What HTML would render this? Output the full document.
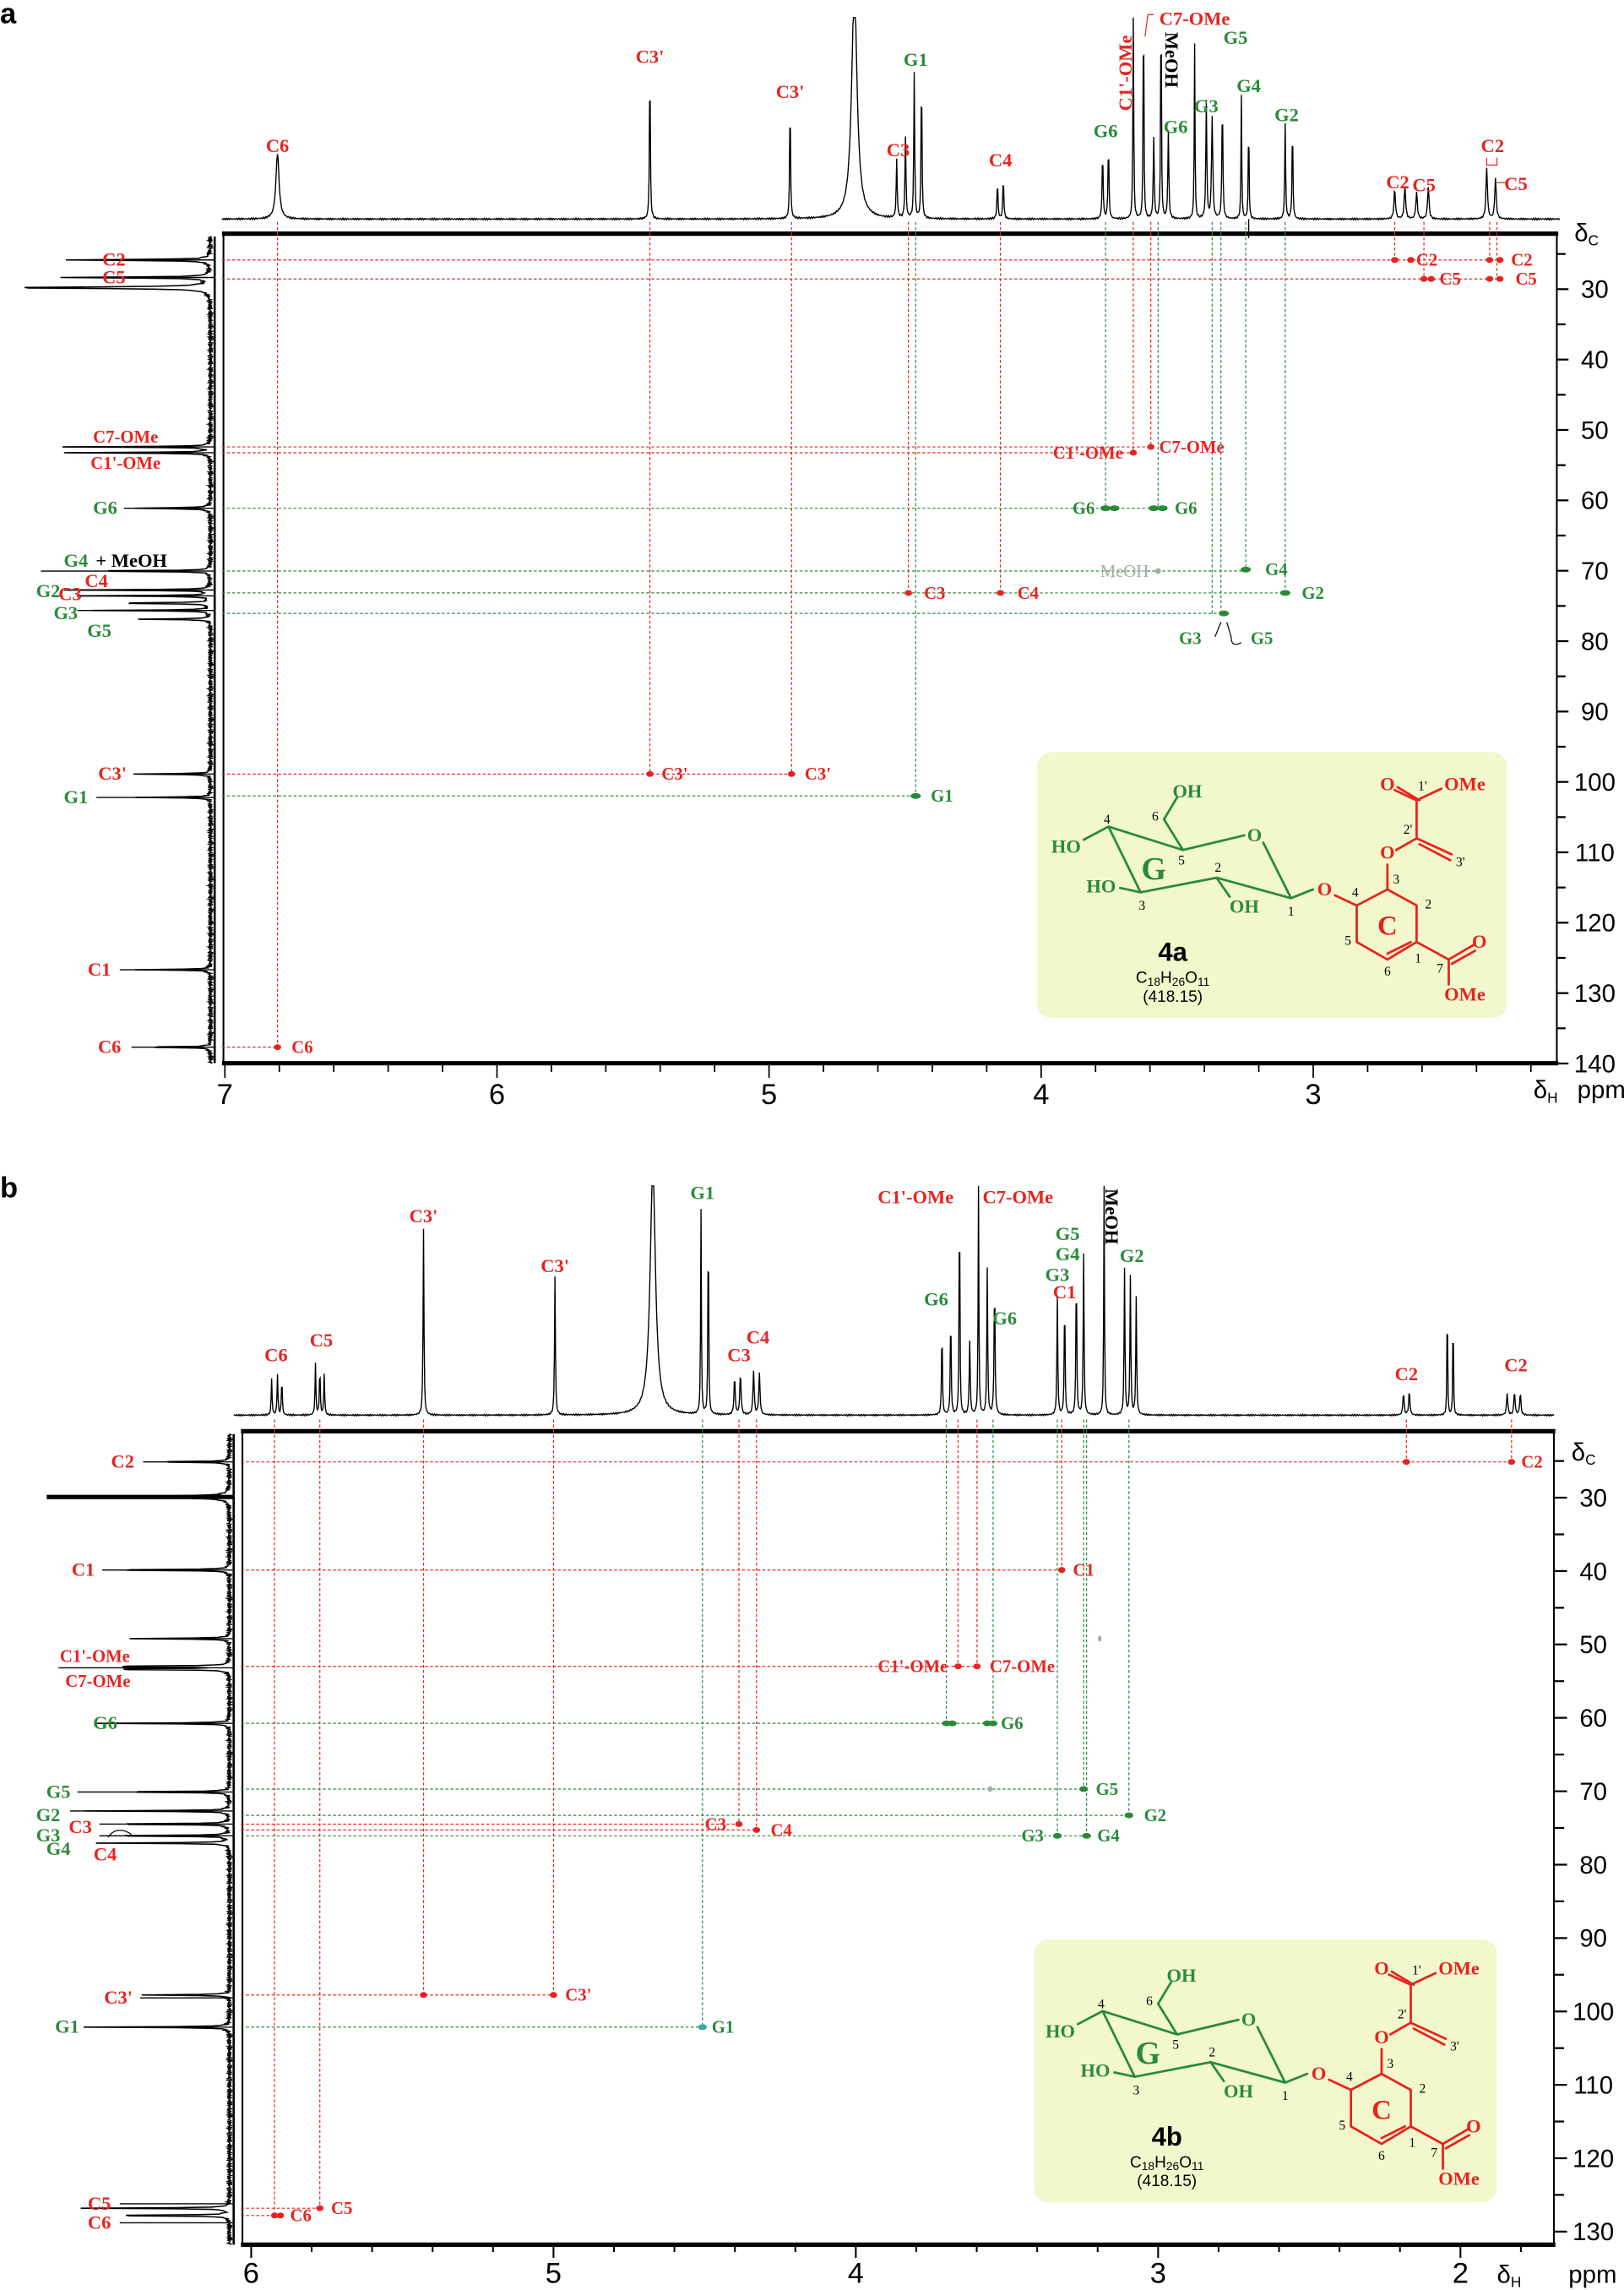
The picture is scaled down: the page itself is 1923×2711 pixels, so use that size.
<!DOCTYPE html>
<html><head><meta charset="utf-8"><style>
html,body{margin:0;padding:0;background:#fff}
svg{display:block}
text{font-family:"Liberation Serif",serif}
.r{fill:#e8231f}.g{fill:#2b8a3a}.k{fill:#000}
.sans{font-family:"Liberation Sans",sans-serif}
</style></head><body>
<svg id="S" width="1923" height="2711" viewBox="0 0 1112 1568" preserveAspectRatio="none" xmlns="http://www.w3.org/2000/svg">
<defs>
<g id="struct" stroke-width="1.6" fill="none" stroke-linecap="round" stroke-linejoin="round">
 <g stroke="#2b8a3a">
  <path d="M142,57 L100,67 L49,51 L71,96 L123,86 L174,100 L155,62"/>
  <path d="M100,67 L87,46 L96,31 M49,51 L32,60 M71,96 L57,93 M123,86 L132,99 M174,100 L189,94"/>
 </g>
 <g stroke="#e8231f">
  <path d="M204,98 L219,105 L240,94 L260,105 L260,130 L240,142 L219,130 L219,105"/>
  <path d="M240,94 L240,77 M246,67 L260,59 L284,70 M260,59 L260,33 L245,26 M260,33 L277,25 M260,130 L282,142 L299,132 M282,142 L282,159"/>
  <path d="M262,63 L283,74 M262,33 L247,24 M284,145 L300,136 M256,130 L240,138"/>
 </g>
 <g class="sans" font-weight="bold" font-size="13" text-anchor="middle" stroke="none">
  <text x="103" y="31" class="g">OH</text><text x="20" y="69" class="g">HO</text>
  <text x="44" y="96" class="g">HO</text><text x="142" y="110" class="g">OH</text>
  <text x="149" y="61" class="g">O</text><text x="197" y="98" class="r">O</text>
  <text x="240" y="73" class="r">O</text><text x="240" y="26" class="r">O</text>
  <text x="293" y="26" class="r">OMe</text><text x="303" y="134" class="r">O</text>
  <text x="293" y="170" class="r">OMe</text>
 </g>
 <g font-size="9" text-anchor="middle" stroke="none" class="k">
  <text x="48" y="49">4</text><text x="99" y="77">5</text><text x="81" y="47">6</text>
  <text x="124" y="82">2</text><text x="72" y="108">3</text><text x="174" y="112">1</text>
  <text x="218" y="99">4</text><text x="246" y="90">3</text><text x="268" y="107">2</text>
  <text x="213" y="132">5</text><text x="261" y="144">1</text><text x="240" y="153">6</text>
  <text x="276" y="151">7</text><text x="264" y="26">1'</text><text x="254" y="56">2'</text><text x="290" y="78">3'</text>
 </g>
 <text x="80" y="87" font-size="22" font-weight="bold" text-anchor="middle" class="g">G</text>
 <text x="240" y="125" font-size="19" font-weight="bold" text-anchor="middle" class="r">C</text>
 <text x="93" y="143" font-size="18" font-weight="bold" text-anchor="middle" class="sans k">4a</text>
 <text x="93" y="158" font-size="11" text-anchor="middle" class="sans k">C<tspan font-size="8" dy="2">18</tspan><tspan dy="-2">H</tspan><tspan font-size="8" dy="2">26</tspan><tspan dy="-2">O</tspan><tspan font-size="8" dy="2">11</tspan></text>
 <text x="93" y="171" font-size="11" text-anchor="middle" class="sans k">(418.15)</text>
</g>
</defs>
<g id="content"></g>
</svg>
<script>
const S=document.getElementById('content');
let out='';
const R='#e8231f',G='#2b8a3a',GR='#aaaaaa';
function t(x,y,s,c,fs,anchor,extra){extra=extra||'';const b=(extra.indexOf('sans')<0&&c!=GR)?'font-weight="bold"':'';out+=`<text x="${x}" y="${y}" fill="${c}" font-size="${fs||12}" text-anchor="${anchor||'middle'}" ${b} ${extra}>${s}</text>`;}
function ln(x1,y1,x2,y2,c,w,dash){out+=`<line x1="${x1}" y1="${y1}" x2="${x2}" y2="${y2}" stroke="${c}" stroke-width="${w||1}" ${dash?'stroke-dasharray="2,1.5"':''}/>`;}
function dot(x,y,c,rx){out+=`<ellipse cx="${x}" cy="${y}" rx="${rx||3}" ry="2" fill="${c}"/>`;}
function spec(x0,x1,base,top,peaks,noise){let d='';for(let x=x0;x<=x1;x+=0.4){let y=0;for(const p of peaks){const u=(x-p[0])/p[2];y+=p[1]/(1+u*u);}y+=Math.sin(x*3.7)*noise+Math.sin(x*11.3)*noise*0.6;let Y=Math.max(top,base-y);d+=(d?'L':'M')+x.toFixed(1)+','+Y.toFixed(1);}out+=`<path d="${d}" fill="none" stroke="#000" stroke-width="0.8"/>`;}
function vproj(xb,y0,y1,peaks){let d='';for(let y=y0;y<=y1;y+=0.4){let v=0;for(const p of peaks){const u=(y-p[0])/p[2];v+=p[1]/(1+u*u);}v+=Math.abs(Math.sin(y*5.1))*2.5+Math.abs(Math.sin(y*13.7))*2;d+=(d?'L':'M')+(xb-v).toFixed(1)+','+y.toFixed(1);}out+=`<path d="${d}" fill="none" stroke="#000" stroke-width="0.9"/>`;}
// ============ PANEL A ============
t(0,16,'a','#000',20,'start','font-weight="bold" class="sans"');
spec(152,1068,150,12,[[190,45,1.3],[445,107,0.35],[541,82,0.35],[585,160,2.2],[614,40,0.4],[620,55,0.4],[626,100,0.35],[631,100,0.35],[683,25,0.4],[687,28,0.4],[755,45,0.4],[759,50,0.4],[776,160,0.3],[783,160,0.3],[790,55,0.4],[795,160,0.3],[800,60,0.4],[818,120,0.3],[826,80,0.4],[830,70,0.5],[837,80,0.4],[850,85,0.3],[855,70,0.3],[880,65,0.35],[885,65,0.35],[955,20,0.6],[962,22,0.6],[970,18,0.6],[978,22,0.6],[1018,35,0.6],[1024,28,0.6]],0.4);
ln(855,150,855,163,'#000',0.8);
out+=`<rect x="153" y="160" width="913" height="568" fill="none" stroke="#000" stroke-width="1.2"/>`;
ln(152,160,1067,160,'#000',3);ln(152,728,1067,728,'#000',3);
const xa=p=>154+(7-p)*186.3;
for(let p=7;p>=2.1;p-=0.2){const x=xa(p);const maj=Math.abs(p-Math.round(p))<0.01;ln(x,728,x,maj?738:734,'#000',1);if(maj)t(x,756,Math.round(p),'#000',20,'middle','class="sans"');}
const ya=v=>198+(v-30)*4.82;
for(let v=25;v<=140;v+=5){const maj=v%10==0;ln(1066,ya(v),maj?1074:1072,ya(v),'#000',1.3);if(maj)t(1092,ya(v)+6,v,'#000',17,'middle','class="sans"');}
t(1078,165,'δ<tspan font-size="10" dy="3">C</tspan>','#000',17,'start','class="sans"');
t(1050,752,'δ<tspan font-size="10" dy="3">H</tspan>','#000',17,'start','class="sans"');
t(1080,752,'ppm','#000',17,'start','class="sans"');
ln(147,162,147,728,'#000',1.5);
vproj(147,162,728,[[178,100,0.4],[190,100,0.4],[197,140,0.6],[306,100,0.3],[310,100,0.3],[348,52,0.4],[391,100,0.3],[404,100,0.3],[408,90,0.3],[413,80,0.3],[418,80,0.3],[424,50,0.3],[530,52,0.3],[546,52,0.3],[664,52,0.3],[717,52,0.3]]);
const va=[[190,R,717],[445,R,530],[542,R,530],[622,R,406],[627,G,545],[685,R,406],[757,G,348],[776,R,310],[788,R,306],[793,G,348],[830,G,420],[836,G,420],[853,G,390],[880,G,406],[955,R,178],[975,R,191],[1020,R,178],[1025,R,191]];
for(const v of va)ln(v[0],152,v[0],v[2],v[1],0.7,1);
const ha=[[178,R,1027],[191,R,1027],[306,R,788],[310,R,776],[348,G,796],[391,G,853],[406,R,685],[406,G,880],[420,G,838],[530,R,542],[545,G,627],[717,R,190]];
for(const h of ha)ln(152,h[0],h[2],h[0],h[1],0.7,1);
[[955,178],[966,178],[1020,178],[1027,178],[975,191],[980,191],[1020,191],[1027,191],[776,310],[788,306],[622,406],[685,406],[445,530],[542,530],[190,717]].forEach(p=>dot(p[0],p[1],R,2.5));
[[757,348],[763,348],[790,348],[796,348],[853,390],[880,406],[838,420],[627,545]].forEach(p=>dot(p[0],p[1],G,3.5));
dot(793,391,GR,2);
t(1042,182,'C2',R,12);t(977,182,'C2',R,12);t(993,195,'C5',R,12);t(1045,195,'C5',R,12);
t(745,314,'C1\'-OMe',R,12);t(816,310,'C7-OMe',R,12);
t(742,352,'G6',G,12);t(812,352,'G6',G,12);
t(770,395,'MeOH',GR,12);t(874,394,'G4',G,12);
t(640,410,'C3',R,12);t(704,410,'C4',R,12);t(899,410,'G2',G,12);
t(815,441,'G3',G,12);t(864,441,'G5',G,12);
out+=`<path d="M832,436 L836,426 M843,436 C843,442 846,442 850,440 M843,436 L840,426" stroke="#000" fill="none" stroke-width="0.7"/>`;
t(462,534,'C3\'',R,12);t(560,534,'C3\'',R,12);t(645,549,'G1',G,12);t(207,721,'C6',R,12);
t(190,104,'C6',R,13);t(445,43,'C3\'',R,13);t(541,67,'C3\'',R,13);t(615,107,'C3',R,13);t(627,45,'G1',G,13);t(685,114,'C4',R,13);
t(757,94,'G6',G,13);t(805,91,'G6',G,13);t(826,77,'G3',G,13);t(846,30,'G5',G,13);t(855,63,'G4',G,13);t(881,83,'G2',G,13);
t(818,17,'C7-OMe',R,13);out+=`<path d="M784,25 L786,10 L790,10" stroke="${R}" fill="none" stroke-width="0.7"/>`;
t(0,0,'C1\'-OMe',R,13,'middle','transform="translate(775,50) rotate(-90)"');
t(0,0,'MeOH','#000',13,'middle','transform="translate(798,41) rotate(90)"');
t(957,129,'C2',R,13);t(975,131,'C5',R,13);t(1022,104,'C2',R,13);t(1038,130,'C5',R,13);
out+=`<path d="M1018,108 L1018,113 L1025,113 L1025,108 M1025,125 L1031,125" stroke="${R}" fill="none" stroke-width="0.7"/>`;
function ll(y,s,c,x,lx){t(x,y+4,s,c,13);ln(lx,y,147,y,'#000',0.8);}
ll(178,'C2',R,78,92);ll(190,'C5',R,78,92);
t(86,303,'C7-OMe',R,12);ln(45,306,147,306,'#000',0.8);t(86,321,'C1\'-OMe',R,12);ln(45,310,147,310,'#000',0.8);
ll(348,'G6',G,72,85);
t(52,388,'G4',G,13);t(90,388,'+ MeOH','#000',13,'middle','font-weight="normal"');ln(28,391,147,391,'#000',0.8);
t(66,402,'C4',R,13);t(33,409,'G2',G,13);t(48,411,'C3',R,13);t(45,424,'G3',G,13);t(68,436,'G5',G,13);
ln(55,404,147,404,'#000',0.8);ln(55,408,147,408,'#000',0.8);ln(53,418,147,418,'#000',0.8);
ll(530,'C3\'',R,77,95);ll(546,'G1',G,52,66);ll(664,'C1',R,68,82);ll(717,'C6',R,75,90);
out+=`<rect x="710" y="515" width="322" height="182" rx="10" fill="#f2f8cc"/><use href="#struct" x="710" y="515"/>`;

// ============ PANEL B ============
t(0,820,'b','#000',20,'start','font-weight="bold" class="sans"');
spec(160,1064,969,812,[[186,25,0.35],[190,28,0.35],[193,25,0.35],[216,35,0.35],[219,32,0.35],[222,28,0.35],[290,128,0.35],[380,95,0.35],[447,170,2.2],[480,140,0.3],[485,140,0.3],[503,25,0.5],[507,28,0.5],[516,30,0.5],[520,28,0.5],[645,60,0.35],[651,70,0.35],[657,160,0.3],[664,50,0.4],[670,160,0.3],[676,100,0.35],[681,90,0.4],[724,80,0.35],[729,80,0.35],[737,100,0.35],[742,110,0.35],[756,160,0.3],[770,100,0.35],[774,95,0.35],[778,80,0.35],[961,15,0.5],[965,16,0.5],[991,90,0.25],[995,80,0.25],[1032,15,0.5],[1037,16,0.5],[1041,15,0.5]],0.35);
const TOP=980,BOT=1537,RX=1064;
out+=`<rect x="166" y="${TOP}" width="${RX-166}" height="${BOT-TOP}" fill="none" stroke="#000" stroke-width="1.2"/>`;
ln(165,TOP,RX+1,TOP,'#000',3);ln(165,BOT,RX+1,BOT,'#000',3);
const xb=p=>172+(6-p)*207;
for(let i=0;i<=24;i++){const p=6-i*0.2;const x=xb(p);if(x>RX)break;const maj=i%5==0;ln(x,BOT,x,maj?BOT+9:BOT+5,'#000',1.2);if(maj)t(x,1563,Math.round(p),'#000',20,'middle','class="sans"');}
const yb=v=>1025.5+(v-30)*5.025;
for(let v=25;v<=130;v+=5){const maj=v%10==0;ln(RX,yb(v),maj?RX+9:RX+7,yb(v),'#000',1.3);if(maj)t(RX+27,yb(v)+6,v,'#000',17,'middle','class="sans"');}
t(1076,1000,'δ<tspan font-size="10" dy="3">C</tspan>','#000',17,'start','class="sans"');
t(1025,1563,'δ<tspan font-size="10" dy="3">H</tspan>','#000',17,'start','class="sans"');
t(1074,1563,'ppm','#000',17,'start','class="sans"');
ln(160,982,160,BOT,'#000',1.5);
vproj(160,982,BOT,[[1001,60,0.3],[1025,128,0.5],[1075,100,0.3],[1122,68,0.3],[1141,100,0.3],[1143,100,0.3],[1180,90,0.3],[1227,90,0.3],[1240,100,0.3],[1249,100,0.3],[1257,100,0.3],[1262,90,0.3],[1366,60,0.3],[1388,100,0.3],[1512,100,0.3],[1517,100,0.3]]);
const vb=[[188,R,1517],[219,R,1512],[290,R,1366],[379,R,1366],[481,G,1388],[506,R,1249],[518,R,1253],[648,G,1180],[656,R,1141],[669,R,1141],[680,G,1180],[727,R,1075],[724,G,1257],[742,G,1225],[744,G,1257],[773,G,1243],[963,R,1001],[1035,R,1001]];
for(const v of vb)ln(v[0],972,v[0],v[2],v[1],0.7,1);
const hb=[[1001,R,1035],[1075,R,727],[1141,R,669],[1180,G,680],[1225,G,742],[1243,G,773],[1249,R,506],[1253,R,518],[1257,G,744],[1366,R,379],[1388,G,481],[1512,R,219],[1517,R,188]];
for(const h of hb)ln(165,h[0],h[2],h[0],h[1],0.7,1);
[[963,1001],[1035,1001],[727,1075],[656,1141],[669,1141],[506,1249],[518,1253],[290,1366],[379,1366],[219,1512],[188,1517],[192,1517]].forEach(p=>dot(p[0],p[1],R,2.5));
[[648,1180],[652,1180],[676,1180],[680,1180],[742,1225],[773,1243],[724,1257],[744,1257]].forEach(p=>dot(p[0],p[1],G,3));
dot(481,1388,'#3aa6a0',3);dot(678,1225,GR,1.5);dot(753,1122,GR,1.2);
t(1049,1005,'C2',R,12);t(742,1079,'C1',R,12);t(625,1145,'C1\'-OMe',R,12);t(700,1145,'C7-OMe',R,12);
t(693,1184,'G6',G,12);t(758,1229,'G5',G,12);t(791,1247,'G2',G,12);t(490,1253,'C3',R,12);t(535,1257,'C4',R,12);
t(707,1261,'G3',G,12);t(759,1261,'G4',G,12);t(396,1370,'C3\'',R,12);t(495,1392,'G1',G,12);t(234,1516,'C5',R,12);t(206,1521,'C6',R,12);
t(189,932,'C6',R,13);t(220,922,'C5',R,13);t(290,837,'C3\'',R,13);t(380,871,'C3\'',R,13);t(481,821,'G1',G,13);
t(506,932,'C3',R,13);t(519,920,'C4',R,13);t(627,824,'C1\'-OMe',R,13);t(697,824,'C7-OMe',R,13);
t(641,894,'G6',G,13);t(688,907,'G6',G,13);t(731,849,'G5',G,13);t(731,863,'G4',G,13);t(724,877,'G3',G,13);t(729,889,'C1',R,13);
t(0,0,'MeOH','#000',13,'middle','transform="translate(757,833) rotate(90)" font-weight="normal"');t(775,864,'G2',G,13);
t(963,945,'C2',R,13);t(1038,939,'C2',R,13);
function lb(y,s,c,x,lx){t(x,y+4,s,c,13);ln(lx,y,160,y,'#000',0.8);}
lb(1001,'C2',R,84,98);ln(32,1025,160,1025,'#000',3);lb(1075,'C1',R,57,70);ln(90,1122,160,1122,'#000',0.8);
t(65,1138,'C1\'-OMe',R,12);t(67,1155,'C7-OMe',R,12);ln(40,1142,160,1142,'#000',0.8);
lb(1180,'G6',G,72,86);lb(1227,'G5',G,40,53);
t(33,1247,'G2',G,13);t(55,1255,'C3',R,13);t(33,1261,'G3',G,13);t(40,1270,'G4',G,13);t(72,1274,'C4',R,13);
ln(48,1240,160,1240,'#000',0.8);ln(68,1249,160,1249,'#000',0.8);ln(68,1257,160,1257,'#000',0.8);
out+=`<path d="M74,1258 C78,1252 84,1252 90,1256" stroke="#000" fill="none" stroke-width="0.7"/>`;
lb(1368,'C3\'',R,81,96);lb(1388,'G1',G,46,60);lb(1509,'C5',R,68,82);lb(1522,'C6',R,68,82);
out+=`<rect x="708" y="1328" width="317" height="180" rx="10" fill="#f2f8cc"/><use href="#struct" x="706" y="1326"/>`;
out+='<rect x="780" y="1452" width="40" height="20" fill="#f2f8cc"/><text x="799" y="1469" font-size="18" font-weight="bold" text-anchor="middle" class="sans" fill="#000">4b</text>';
S.innerHTML=out;
</script>
</body></html>
